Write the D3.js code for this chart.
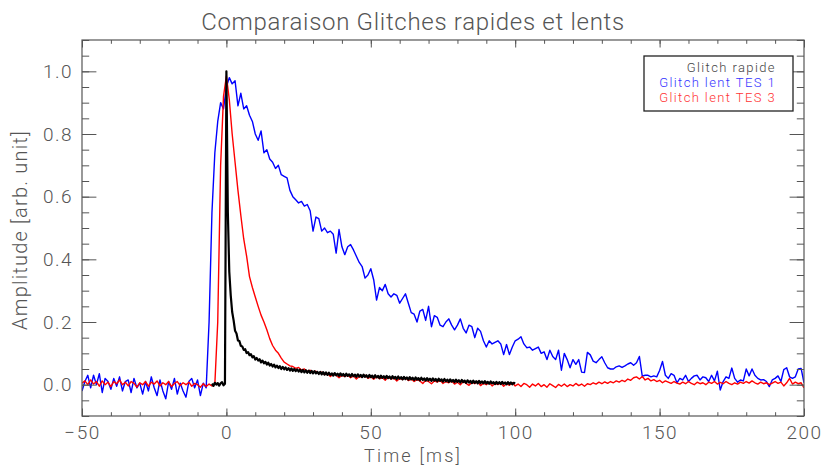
<!DOCTYPE html>
<html>
<head>
<meta charset="utf-8">
<script src="https://cdn.jsdelivr.net/npm/d3@7"></script>
<style>
  html, body { margin: 0; padding: 0; background: #fff; }
  svg { display: block; }
  text { font-family: Roboto, "DejaVu Sans", sans-serif; font-weight: 300; }
</style>
</head>
<body>
<div id="chart"></div>
<script>
// ---------------- DATA ----------------
const title = "Comparaison Glitches rapides et lents";
const xLabel = "Time [ms]";
const yLabel = "Amplitude [arb. unit]";
const xTicks = [-50, 0, 50, 100, 150, 200];
const xTickLabels = ["\u221250", "0", "50", "100", "150", "200"];
const yTicks = [0, 0.2, 0.4, 0.6, 0.8, 1.0];
const yTickLabels = ["0.0", "0.2", "0.4", "0.6", "0.8", "1.0"];
const legendNames = ["Glitch rapide", "Glitch lent TES 1", "Glitch lent TES 3"];

// Glitch lent TES 1 (blue): t = -50 .. 200, step 1 ms
const blueStart = -50, blueStep = 1;
const blueValues = [
  -0.02, 0.01, 0.03, -0.01, 0.03, 0.00, 0.035, -0.025, 0.02, 0.01,
  -0.015, 0.02, -0.005, 0.025, -0.02, 0.01, 0.015, -0.025, 0.02, -0.01,
  0.005, -0.03, 0.01, -0.02, 0.025, -0.01, -0.035, 0.015, -0.02, -0.045,
  0.01, -0.015, 0.02, -0.03, 0.005, -0.02, -0.04, 0.01, 0.02, -0.01,
  0.015, -0.035, 0.005, -0.01, 0.2, 0.55, 0.74, 0.84, 0.90, 0.88,
  0.95, 0.98, 0.96, 0.97, 0.89, 0.93, 0.88, 0.89, 0.86, 0.84,
  0.80, 0.78, 0.81, 0.74, 0.75, 0.72, 0.71, 0.69, 0.70, 0.67,
  0.665, 0.66, 0.62, 0.60, 0.59, 0.58, 0.585, 0.57, 0.575, 0.555,
  0.49, 0.535, 0.53, 0.49, 0.50, 0.485, 0.49, 0.48, 0.42, 0.495,
  0.44, 0.415, 0.44, 0.447, 0.43, 0.41, 0.39, 0.377, 0.34, 0.35,
  0.37, 0.335, 0.27, 0.31, 0.30, 0.32, 0.29, 0.28, 0.29, 0.285,
  0.26, 0.275, 0.29, 0.26, 0.23, 0.225, 0.20, 0.235, 0.24, 0.205,
  0.25, 0.185, 0.22, 0.215, 0.19, 0.185, 0.20, 0.21, 0.19, 0.175,
  0.19, 0.21, 0.18, 0.165, 0.19, 0.185, 0.15, 0.18, 0.17, 0.14,
  0.12, 0.14, 0.13, 0.135, 0.14, 0.13, 0.096, 0.128, 0.096, 0.12,
  0.14, 0.145, 0.153, 0.13, 0.118, 0.12, 0.11, 0.115, 0.12, 0.10,
  0.105, 0.08, 0.11, 0.09, 0.08, 0.11, 0.046, 0.10, 0.08, 0.054,
  0.08, 0.065, 0.08, 0.04, 0.039, 0.103, 0.095, 0.075, 0.07, 0.08,
  0.089, 0.07, 0.054, 0.05, 0.05, 0.057, 0.06, 0.055, 0.06, 0.066,
  0.07, 0.062, 0.07, 0.09, 0.027, 0.03, 0.03, 0.025, 0.028, 0.025,
  0.045, 0.074, 0.03, 0.02, 0.035, 0.03, 0.006, 0.02, 0.015, 0.03,
  0.01, 0.02, 0.028, 0.03, 0.015, 0.025, 0.022, 0.01, 0.03, 0.012,
  0.043, -0.017, 0.01, 0.025, 0.02, 0.053, 0.02, 0.008, 0.015, 0.012,
  0.05, 0.028, 0.05, 0.03, 0.02, 0.015, 0.016, 0.01, -0.006, 0.015,
  0.02, 0.028, 0.01, 0.048, 0.054, 0.025, 0.02, 0.025, 0.05, 0.052,
  0.006
];

// Glitch lent TES 3 (red): t = -50 .. 200, step 1 ms
const redStart = -50, redStep = 1;
const redValues = [
  0.005, 0.012, 0.0, 0.015, 0.002, 0.01, -0.005, 0.012, 0.0, 0.008,
  -0.006, 0.01, 0.003, 0.015, 0.0, 0.008, -0.004, 0.01, 0.004, -0.008,
  0.006, 0.0, 0.01, -0.005, 0.008, 0.002, 0.012, -0.004, 0.006, 0.0,
  0.01, -0.006, 0.004, 0.01, -0.003, 0.006, 0.0, 0.008, -0.005, 0.004,
  0.0, -0.008, 0.003, -0.006, 0.002, -0.004, 0.002, 0.2, 0.70, 0.92,
  0.985, 0.91, 0.80, 0.71, 0.62, 0.54, 0.465, 0.41, 0.345, 0.31,
  0.28, 0.25, 0.222, 0.2, 0.175, 0.147, 0.125, 0.11, 0.1, 0.085,
  0.072, 0.066, 0.06, 0.058, 0.052, 0.055, 0.047, 0.05, 0.042, 0.046,
  0.04, 0.043, 0.036, 0.04, 0.032, 0.036, 0.026, 0.034, 0.03, 0.022,
  0.03, 0.026, 0.031, 0.022, 0.028, 0.018, 0.026, 0.024, 0.03, 0.02,
  0.025, 0.017, 0.026, 0.019, 0.022, 0.014, 0.024, 0.018, 0.021, 0.012,
  0.02, 0.016, 0.022, 0.013, 0.018, 0.01, 0.016, 0.012, 0.004, 0.014,
  0.01, 0.003, 0.012, 0.008, 0.014, 0.004, 0.01, 0.006, 0.012, 0.002,
  0.008, 0.0, 0.01, 0.004, -0.002, 0.008, 0.003, 0.01, -0.003, 0.005,
  0.0, 0.007, -0.004, 0.004, 0.0, 0.006, -0.005, 0.003, -0.002, 0.006,
  -0.004, 0.002, -0.006, 0.004, 0.0, -0.008, 0.002, -0.004, 0.004, -0.006,
  0.0, -0.008, 0.003, -0.003, -0.009, 0.001, -0.005, 0.002, -0.006, 0.0,
  -0.004, 0.004, -0.003, 0.002, -0.005, 0.003, 0.0, 0.006, 0.002, 0.008,
  0.003, 0.009, 0.004, 0.01, 0.006, 0.012, 0.008, 0.014, 0.01, 0.018,
  0.014, 0.022, 0.025, 0.018, 0.026, 0.015, 0.02, 0.012, 0.016, 0.01,
  0.014, 0.006, 0.012, 0.008, 0.004, 0.01, 0.005, 0.002, 0.008, 0.003,
  0.01, 0.004, 0.0, 0.008, 0.003, 0.006, 0.0, 0.008, 0.004, 0.01,
  0.002, 0.007, 0.003, 0.01, 0.004, 0.0, 0.006, 0.002, 0.008, 0.004,
  0.01, 0.005, 0.012, 0.006, 0.002, 0.008, 0.003, 0.006, 0.0, 0.005,
  0.01, 0.004, 0.008, -0.004, 0.006, 0.02, 0.002, 0.008, 0.003, 0.006,
  -0.01
];

// Glitch rapide (black): t = -5 .. 100, step 0.5 ms
const blackStart = -5, blackStep = 0.5;
const blackValues = [
  0.003, -0.004, 0.006, 0.0, 0.005, -0.003, 0.004, 0.008, -0.002, 0.003,
  1.0, 0.55, 0.36, 0.285, 0.232, 0.205, 0.172, 0.163, 0.141, 0.139,
  0.124, 0.122, 0.111, 0.113, 0.101, 0.104, 0.094, 0.097, 0.087, 0.091,
  0.080, 0.085, 0.077, 0.081, 0.071, 0.077, 0.068, 0.073, 0.064, 0.070,
  0.061, 0.066, 0.058, 0.064, 0.055, 0.061, 0.053, 0.059, 0.050, 0.057,
  0.049, 0.055, 0.047, 0.053, 0.045, 0.052, 0.044, 0.050, 0.043, 0.049,
  0.042, 0.048, 0.040, 0.047, 0.039, 0.046, 0.038, 0.045, 0.037, 0.044,
  0.036, 0.043, 0.036, 0.041, 0.034, 0.041, 0.033, 0.040, 0.032, 0.039,
  0.031, 0.038, 0.031, 0.036, 0.029, 0.037, 0.030, 0.035, 0.028, 0.036,
  0.029, 0.034, 0.027, 0.035, 0.028, 0.033, 0.026, 0.034, 0.027, 0.032,
  0.025, 0.033, 0.026, 0.031, 0.024, 0.032, 0.025, 0.030, 0.023, 0.031,
  0.024, 0.029, 0.022, 0.030, 0.023, 0.028, 0.021, 0.029, 0.022, 0.027,
  0.020, 0.028, 0.021, 0.026, 0.019, 0.027, 0.020, 0.025, 0.018, 0.026,
  0.019, 0.024, 0.017, 0.025, 0.018, 0.023, 0.016, 0.024, 0.017, 0.022,
  0.015, 0.023, 0.016, 0.021, 0.014, 0.022, 0.015, 0.020, 0.013, 0.021,
  0.014, 0.019, 0.012, 0.020, 0.013, 0.018, 0.011, 0.019, 0.012, 0.017,
  0.010, 0.018, 0.011, 0.016, 0.009, 0.017, 0.010, 0.015, 0.008, 0.016,
  0.009, 0.014, 0.007, 0.015, 0.008, 0.013, 0.006, 0.014, 0.007, 0.012,
  0.005, 0.013, 0.006, 0.011, 0.004, 0.012, 0.005, 0.010, 0.004, 0.011,
  0.004, 0.009, 0.003, 0.010, 0.004, 0.008, 0.002, 0.009, 0.003, 0.008,
  0.002, 0.009, 0.003, 0.007, 0.001, 0.008, 0.002, 0.007, 0.001, 0.006,
  0.004
];

const seriesColors = ["#000000", "#0000ff", "#ff0000"];

// ---------------- CHART ----------------
const W = 823, H = 468;
const M = { left: 82, right: 804, top: 40, bottom: 416 };
const axisColor = "#555555";
const FONT = 'Roboto, "DejaVu Sans", sans-serif';

const svg = d3.select("#chart").append("svg")
  .attr("width", W).attr("height", H);

const x = d3.scaleLinear().domain([-50, 200]).range([M.left, M.right]);
const y = d3.scaleLinear().domain([-0.1, 1.1]).range([M.bottom, M.top]);

function toPoints(start, step, values) {
  return values.map((v, i) => [start + i * step, v]);
}
const series = [
  { name: legendNames[1], color: seriesColors[1], pts: toPoints(blueStart, blueStep, blueValues), w: 1.4 },
  { name: legendNames[2], color: seriesColors[2], pts: toPoints(redStart, redStep, redValues), w: 1.4 },
  { name: legendNames[0], color: seriesColors[0], pts: toPoints(blackStart, blackStep, blackValues), w: 2.2 }
];

svg.append("clipPath").attr("id", "clip")
  .append("rect")
  .attr("x", M.left).attr("y", M.top)
  .attr("width", M.right - M.left).attr("height", M.bottom - M.top);

const line = d3.line().x(d => x(d[0])).y(d => y(d[1]));
const gLines = svg.append("g").attr("clip-path", "url(#clip)");
series.forEach(s => {
  gLines.append("path")
    .attr("d", line(s.pts))
    .attr("fill", "none")
    .attr("stroke", s.color)
    .attr("stroke-width", s.w)
    .attr("stroke-linejoin", "round");
});

// Axes (ticks pointing inward)
const xMinor = d3.range(-50, 201, 10);
const yMinor = d3.range(-0.1, 1.1001, 0.05).map(v => +v.toFixed(2));
const xMajLen = 7.5, xMinLen = 3.8, yMajLen = 14.4, yMinLen = 7.2;

function styleAxis(g) {
  g.select(".domain").remove();
  g.selectAll("line").attr("stroke", axisColor).attr("stroke-width", 1);
  g.selectAll("text").attr("fill", axisColor).style("font-size", "19px")
    .style("letter-spacing", "1.5px")
    .style("font-family", FONT).style("font-weight", 300);
}

// bottom
svg.append("g").attr("transform", `translate(0,${M.bottom})`)
  .call(d3.axisBottom(x).tickValues(xMinor).tickSize(-xMinLen).tickFormat(""))
  .call(styleAxis);
svg.append("g").attr("transform", `translate(0,${M.bottom})`)
  .call(d3.axisBottom(x).tickValues(xTicks).tickSize(-xMajLen).tickPadding(10)
    .tickFormat((d, i) => xTickLabels[i]))
  .call(styleAxis);
// top
svg.append("g").attr("transform", `translate(0,${M.top})`)
  .call(d3.axisTop(x).tickValues(xMinor).tickSize(-xMinLen).tickFormat(""))
  .call(styleAxis);
svg.append("g").attr("transform", `translate(0,${M.top})`)
  .call(d3.axisTop(x).tickValues(xTicks).tickSize(-xMajLen).tickFormat(""))
  .call(styleAxis);
// left
svg.append("g").attr("transform", `translate(${M.left},0)`)
  .call(d3.axisLeft(y).tickValues(yMinor).tickSize(-yMinLen).tickFormat(""))
  .call(styleAxis);
svg.append("g").attr("transform", `translate(${M.left},0)`)
  .call(d3.axisLeft(y).tickValues(yTicks).tickSize(-yMajLen).tickPadding(9)
    .tickFormat((d, i) => yTickLabels[i]))
  .call(styleAxis);
// right
svg.append("g").attr("transform", `translate(${M.right},0)`)
  .call(d3.axisRight(y).tickValues(yMinor).tickSize(-yMinLen).tickFormat(""))
  .call(styleAxis);
svg.append("g").attr("transform", `translate(${M.right},0)`)
  .call(d3.axisRight(y).tickValues(yTicks).tickSize(-yMajLen).tickFormat(""))
  .call(styleAxis);

// Frame
svg.append("rect")
  .attr("x", M.left).attr("y", M.top)
  .attr("width", M.right - M.left).attr("height", M.bottom - M.top)
  .attr("fill", "none").attr("stroke", axisColor).attr("stroke-width", 1.2);

// Title
svg.append("text")
  .attr("x", 413).attr("y", 30)
  .attr("text-anchor", "middle")
  .attr("fill", axisColor)
  .style("font-size", "24px")
  .style("letter-spacing", "0.7px")
  .text(title);

// Axis labels
svg.append("text")
  .attr("x", 413).attr("y", 462)
  .attr("text-anchor", "middle")
  .attr("fill", axisColor)
  .style("font-size", "18px")
  .style("letter-spacing", "2.2px")
  .text(xLabel);

svg.append("text")
  .attr("transform", `translate(27,${230}) rotate(-90)`)
  .attr("text-anchor", "middle")
  .attr("fill", axisColor)
  .style("font-size", "20px")
  .style("letter-spacing", "1.2px")
  .text(yLabel);

// Legend
const lg = svg.append("g");
lg.append("rect")
  .attr("x", 644).attr("y", 56).attr("width", 149).attr("height", 55)
  .attr("fill", "#fff").attr("stroke", "#222").attr("stroke-width", 1.3);
const legendColors = ["#444444", "#3333ff", "#ff3333"];
legendNames.forEach((n, i) => {
  lg.append("text")
    .attr("x", 776).attr("y", 72 + i * 15)
    .attr("text-anchor", "end")
    .attr("fill", legendColors[i])
    .style("font-size", "13px")
    .style("letter-spacing", "1.4px")
    .text(n);
});
</script>
</body>
</html>
